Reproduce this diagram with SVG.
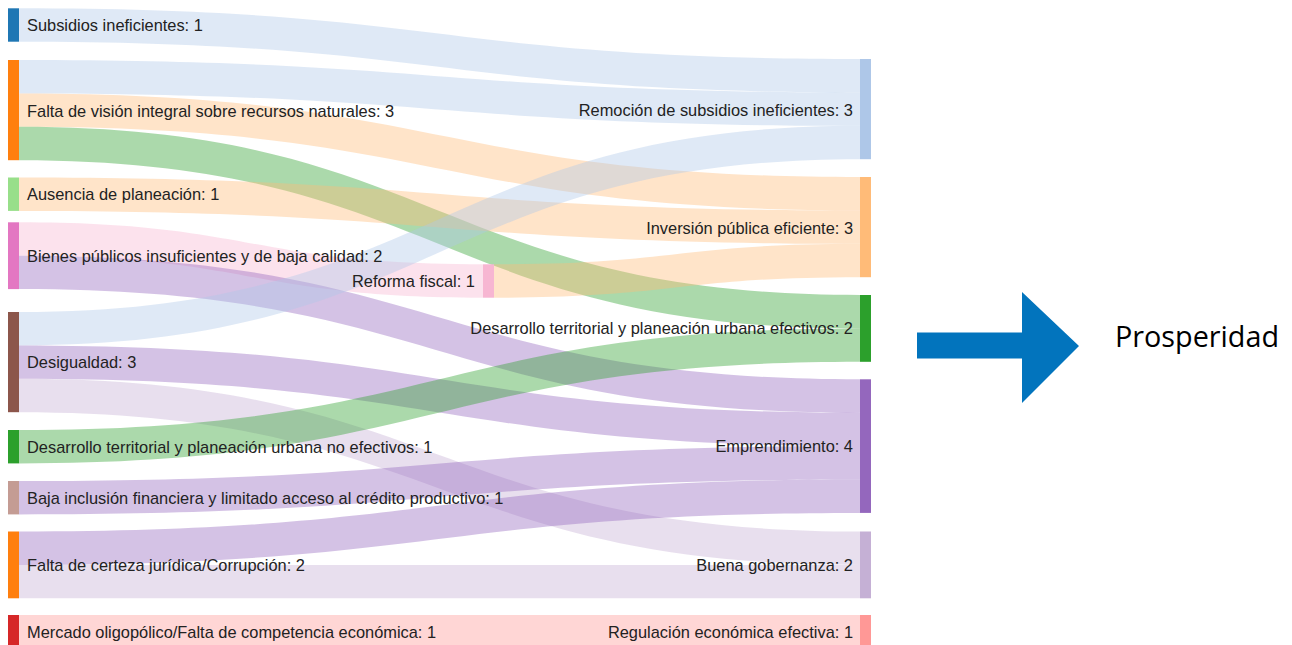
<svg xmlns="http://www.w3.org/2000/svg" width="1292" height="645" viewBox="0 0 1292 645">
<style>
.lbl{font-family:"Liberation Sans",Arial,sans-serif;font-size:16.4px;fill:#222}
.r{text-anchor:end}
.lk{fill-opacity:0.4}
</style>
<rect width="1292" height="645" fill="#fff"/>
<g id="links">
<path class="lk" fill="#aec7e8" d="M19,8.3 C439.5,8.3 439.5,59 860,59 L860,92.4 C439.5,92.4 439.5,41.7 19,41.7Z"/>
<path class="lk" fill="#aec7e8" d="M19,60 C439.5,60 439.5,92.4 860,92.4 L860,125.8 C439.5,125.8 439.5,93.4 19,93.4Z"/>
<path class="lk" fill="#ffbb78" d="M19,93.4 C439.5,93.4 439.5,177 860,177 L860,210.4 C439.5,210.4 439.5,126.8 19,126.8Z"/>
<path class="lk" fill="#2ca02c" d="M19,126.8 C439.5,126.8 439.5,295 860,295 L860,328.4 C439.5,328.4 439.5,160.2 19,160.2Z"/>
<path class="lk" fill="#ffbb78" d="M19,177.5 C439.5,177.5 439.5,210.4 860,210.4 L860,243.8 C439.5,243.8 439.5,210.9 19,210.9Z"/>
<path class="lk" fill="#f7b6d2" d="M19,222.3 C251,222.3 251,264.3 483,264.3 L483,297.7 C251,297.7 251,255.7 19,255.7Z"/>
<path class="lk" fill="#9467bd" d="M19,255.7 C439.5,255.7 439.5,379.3 860,379.3 L860,412.7 C439.5,412.7 439.5,289.1 19,289.1Z"/>
<path class="lk" fill="#ffbb78" d="M494,264.3 C677,264.3 677,243.8 860,243.8 L860,277.2 C677,277.2 677,297.7 494,297.7Z"/>
<path class="lk" fill="#aec7e8" d="M19,312 C439.5,312 439.5,125.8 860,125.8 L860,159.2 C439.5,159.2 439.5,345.4 19,345.4Z"/>
<path class="lk" fill="#9467bd" d="M19,345.4 C439.5,345.4 439.5,412.7 860,412.7 L860,446.1 C439.5,446.1 439.5,378.8 19,378.8Z"/>
<path class="lk" fill="#c5b0d5" d="M19,378.8 C439.5,378.8 439.5,531.5 860,531.5 L860,564.9 C439.5,564.9 439.5,412.2 19,412.2Z"/>
<path class="lk" fill="#2ca02c" d="M19,430 C439.5,430 439.5,328.4 860,328.4 L860,361.8 C439.5,361.8 439.5,463.4 19,463.4Z"/>
<path class="lk" fill="#9467bd" d="M19,481 C439.5,481 439.5,446.1 860,446.1 L860,479.5 C439.5,479.5 439.5,514.4 19,514.4Z"/>
<path class="lk" fill="#9467bd" d="M19,531.5 C439.5,531.5 439.5,479.5 860,479.5 L860,512.9 C439.5,512.9 439.5,564.9 19,564.9Z"/>
<path class="lk" fill="#c5b0d5" d="M19,564.9 L860,564.9 L860,598.3 L19,598.3Z"/>
<path class="lk" fill="#ff9896" d="M19,615 L860,615 L860,648.4 L19,648.4Z"/>
</g>
<g id="n-subsidios"><rect x="8" y="8.3" width="11" height="33.4" fill="#1f77b4"/><text class="lbl" x="27" y="31">Subsidios ineficientes: 1</text></g>
<g id="n-vision"><rect x="8" y="60" width="11" height="100.2" fill="#ff7f0e"/><text class="lbl" x="27" y="116.6">Falta de visión integral sobre recursos naturales: 3</text></g>
<g id="n-ausencia"><rect x="8" y="177.5" width="11" height="33.4" fill="#98df8a"/><text class="lbl" x="27" y="200.3">Ausencia de planeación: 1</text></g>
<g id="n-bienes"><rect x="8" y="222.3" width="11" height="66.8" fill="#e377c2"/><text class="lbl" x="27" y="261.8">Bienes públicos insuficientes y de baja calidad: 2</text></g>
<g id="n-desigualdad"><rect x="8" y="312" width="11" height="100.2" fill="#8c564b"/><text class="lbl" x="27" y="368.2">Desigualdad: 3</text></g>
<g id="n-desnoef"><rect x="8" y="430" width="11" height="33.4" fill="#2ca02c"/><text class="lbl" x="27" y="452.8">Desarrollo territorial y planeación urbana no efectivos: 1</text></g>
<g id="n-baja"><rect x="8" y="481" width="11" height="33.4" fill="#c49c94"/><text class="lbl" x="27" y="503.8">Baja inclusión financiera y limitado acceso al crédito productivo: 1</text></g>
<g id="n-certeza"><rect x="8" y="531.5" width="11" height="66.8" fill="#ff7f0e"/><text class="lbl" x="27" y="571">Falta de certeza jurídica/Corrupción: 2</text></g>
<g id="n-mercado"><rect x="8" y="615" width="11" height="33.4" fill="#d62728"/><text class="lbl" x="27" y="637.8">Mercado oligopólico/Falta de competencia económica: 1</text></g>
<g id="n-reforma"><rect x="483" y="264.3" width="11" height="33.4" fill="#f7b6d2"/><text class="lbl r" x="475" y="287.1">Reforma fiscal: 1</text></g>
<g id="n-remocion"><rect x="860" y="59" width="11" height="100.2" fill="#aec7e8"/><text class="lbl r" x="853" y="115.6">Remoción de subsidios ineficientes: 3</text></g>
<g id="n-inversion"><rect x="860" y="177" width="11" height="100.2" fill="#ffbb78"/><text class="lbl r" x="853" y="233.6">Inversión pública eficiente: 3</text></g>
<g id="n-desef"><rect x="860" y="295" width="11" height="66.8" fill="#2ca02c"/><text class="lbl r" x="853" y="334.4">Desarrollo territorial y planeación urbana efectivos: 2</text></g>
<g id="n-emprend"><rect x="860" y="379.3" width="11" height="133.6" fill="#9467bd"/><text class="lbl r" x="853" y="452.1">Emprendimiento: 4</text></g>
<g id="n-gobernanza"><rect x="860" y="531.5" width="11" height="66.8" fill="#c5b0d5"/><text class="lbl r" x="853" y="571">Buena gobernanza: 2</text></g>
<g id="n-regulacion"><rect x="860" y="615" width="11" height="33.4" fill="#ff9896"/><text class="lbl r" x="853" y="637.8">Regulación económica efectiva: 1</text></g>
<g id="arrow"><polygon points="917,332.5 1022,332.5 1022,292 1079,346 1022,403 1022,358.5 917,358.5" fill="#0274bd"/></g>
<g id="n-prosperidad"><text x="1115" y="347" font-family="'Open Sans',Lato,sans-serif" font-weight="400" font-size="30" fill="#000" textLength="164" lengthAdjust="spacingAndGlyphs">Prosperidad</text></g>
</svg>
